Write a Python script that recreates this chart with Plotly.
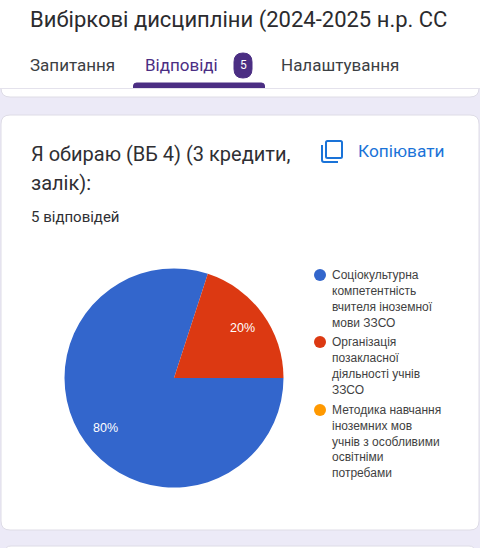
import math
import plotly.graph_objects as go

W, H = 480, 548

# data
categories = [
    "Соціокультурна компетентність вчителя іноземної мови ЗЗСО",
    "Організація позакласної діяльності учнів ЗЗСО",
    "Методика навчання іноземних мов учнів з особливими освітніми потребами",
]
values = [4, 1, 0]
colors = ["#3366CC", "#DC3912", "#FF9900"]
legend_lines = [
    ["Соціокультурна", "компетентність", "вчителя іноземної", "мови ЗЗСО"],
    ["Організація", "позакласної", "діяльності учнів", "ЗЗСО"],
    ["Методика навчання", "іноземних мов", "учнів з особливими", "освітніми", "потребами"],
]
page_title = "Вибіркові дисципліни (2024-2025 н.р. СС"
tabs = ["Запитання", "Відповіді", "Налаштування"]
badge = "5"
question = ["Я обираю (ВБ 4) (3 кредити,", "залік):"]
copy_label = "Копіювати"
responses = "5 відповідей"

FONT = "Roboto, Arial, sans-serif"
CHART_FONT = "Liberation Sans, Arial, sans-serif"
BG = "#ECEAF7"
BORDER = "#DEDCE6"
PURPLE = "#4B2E83"
BLUE = "#1A73D8"


def X(v):
    return v / W


def Y(v):
    return 1 - v / H


def rrect(x0, y0, x1, y1, r, fill, line=None, lw=1):
    """Rounded rectangle in pixel coordinates, as a paper-referenced path."""
    a, b = X(x0), X(x1)
    c, d = Y(y0), Y(y1)
    rx, ry = r / W, r / H
    path = (
        f"M {a + rx} {c} L {b - rx} {c} Q {b} {c} {b} {c - ry} "
        f"L {b} {d + ry} Q {b} {d} {b - rx} {d} L {a + rx} {d} "
        f"Q {a} {d} {a} {d + ry} L {a} {c - ry} Q {a} {c} {a + rx} {c} Z"
    )
    return dict(
        type="path", xref="paper", yref="paper", path=path, layer="below",
        fillcolor=fill, line=dict(color=line or fill, width=lw),
    )


def box(x0, y0, x1, y1, fill):
    return dict(
        type="rect", xref="paper", yref="paper", layer="below",
        x0=X(x0), x1=X(x1), y0=Y(y1), y1=Y(y0), fillcolor=fill, line=dict(width=0),
    )


def label(x, y, text, size, color, anchor="left", family=FONT):
    return dict(
        xref="paper", yref="paper", x=X(x), y=Y(y), text=text, showarrow=False,
        xanchor=anchor, yanchor="middle", borderpad=0,
        font=dict(family=family, size=size, color=color),
    )


shapes = [
    rrect(1, 60, 479, 97, 9, "#FFFFFF", BORDER),
    box(0, 0, W, 88, "#FFFFFF"),
    rrect(133.5, 83, 264.5, 94, 3, PURPLE),
    box(130, 88, 268, 95.5, "#FFFFFF"),
    box(0, 88, W, 89, "#E4E2EC"),
    rrect(1, 115, 479, 530, 9, "#FFFFFF", BORDER),
    rrect(5, 546, 475, 600, 6, "#FFFFFF", BORDER),
    rrect(234, 53, 252, 78, 9, PURPLE),
    # copy icon
    rrect(326, 141, 342, 158, 1.5, "#FFFFFF", BLUE, 2),
    dict(
        type="path", xref="paper", yref="paper", layer="below",
        path=f"M {X(322)} {Y(145)} L {X(322)} {Y(160)} Q {X(322)} {Y(162)} {X(324)} {Y(162)} L {X(338)} {Y(162)}",
        line=dict(color=BLUE, width=2),
    ),
]

annotations = [
    label(29, 20, page_title, 22, "#2B2B2E"),
    label(29, 65, tabs[0], 17, "#3C4043"),
    label(144, 65, tabs[1], 17, PURPLE),
    label(243, 65.5, badge, 12, "#FFFFFF", "center"),
    label(280, 65, tabs[2], 17, "#3C4043"),
    label(30, 153.5, question[0], 20, "#2F2F33"),
    label(30, 183, question[1], 20, "#2F2F33"),
    label(356.5, 151, copy_label, 17.3, BLUE),
    label(29.5, 217, responses, 15, "#2F2F33"),
]

tops = [275, 342, 410]
steps = [16, 16, 15.8]
for lines, colour, top, step in zip(legend_lines, colors, tops, steps):
    shapes.append(dict(
        type="circle", xref="paper", yref="paper", layer="below",
        x0=X(314), x1=X(326), y0=Y(top + 6), y1=Y(top - 6),
        fillcolor=colour, line=dict(width=0),
    ))
    for i, line in enumerate(lines):
        annotations.append(label(330.5, top + i * step, line, 12, "#3F3F42", family=CHART_FONT))

cx, cy, r = 174, 378, 109.5

# percentage labels sit at about three quarters of the radius, on each slice's mid-angle
total = sum(values)
start = 90.0
for v in values:
    sweep = 360 * v / total
    if v > 0:
        mid = math.radians(start + sweep / 2)
        annotations.append(label(
            cx + 0.77 * r * math.sin(mid), cy - 0.77 * r * math.cos(mid),
            f"{100 * v / total:.0f}%", 12.5, "#FFFFFF", "center", CHART_FONT,
        ))
    start += sweep

fig = go.Figure(go.Pie(
    labels=categories,
    values=values,
    sort=False,
    direction="clockwise",
    rotation=90,
    marker=dict(colors=colors, line=dict(width=0)),
    textinfo="none",
    domain=dict(x=[X(cx - r), X(cx + r)], y=[Y(cy + r), Y(cy - r)]),
    showlegend=False,
    hoverinfo="label+percent",
))
fig.update_layout(
    width=W, height=H,
    margin=dict(l=0, r=0, t=0, b=0),
    paper_bgcolor=BG,
    plot_bgcolor=BG,
    showlegend=False,
    shapes=shapes,
    annotations=annotations,
)
fig.write_html(
    "out.html",
    config=dict(displayModeBar=False),
    post_script="document.body.style.margin='0';document.body.style.overflow='hidden';",
)
